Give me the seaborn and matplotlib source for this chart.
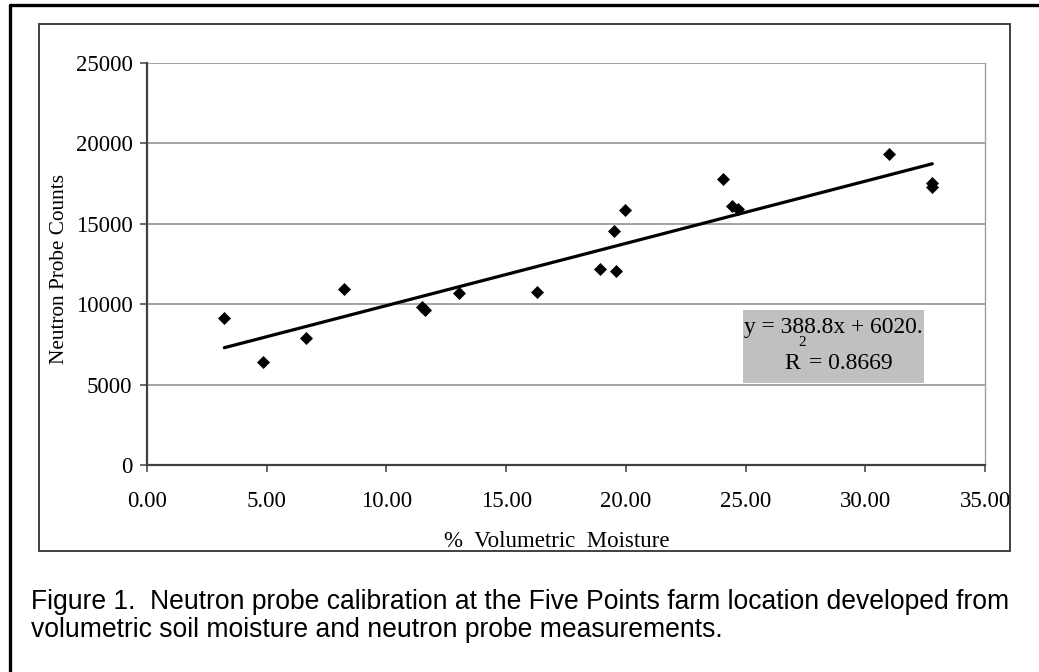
"""
Neutron probe calibration plot: neutron probe counts versus volumetric
soil moisture, with a fitted linear trendline (Five Points farm).
"""
import numpy as np
import pandas as pd
import seaborn as sns
import matplotlib.pyplot as plt
from matplotlib.patches import Rectangle
from matplotlib.lines import Line2D
from matplotlib.ticker import FormatStrFormatter, MultipleLocator

# Data
moisture = [3.23, 4.86, 6.63, 8.24, 11.50, 11.62, 13.05, 16.28, 18.94,
            19.60, 19.52, 19.97, 24.07, 24.45, 24.67, 30.97, 32.80, 32.80]
counts = [9120, 6390, 7900, 10950, 9800, 9660, 10680, 10740, 12190,
          12070, 14530, 15840, 17770, 16130, 15920, 19320, 17560, 17270]

EQUATION = "y = 388.8x + 6020.1"
R_SQUARED = "0.8669"
CAPTION = ["Figure 1.  Neutron probe calibration at the Five Points farm location developed from",
           "volumetric soil moisture and neutron probe measurements."]

X_LABEL = "%  Volumetric  Moisture"
Y_LABEL = "Neutron Probe Counts"

SERIF = "Liberation Serif"
SANS = "Liberation Sans"


def main():
    sns.set_style("white")
    plt.rcParams["font.family"] = [SERIF, "DejaVu Serif"]
    for key in ("text.color", "axes.labelcolor", "xtick.labelcolor", "ytick.labelcolor"):
        plt.rcParams[key] = "black"

    df = pd.DataFrame({"moisture": moisture, "counts": counts})

    W, H = 1039, 672
    fig = plt.figure(figsize=(W / 100, H / 100), dpi=100)
    ax = fig.add_axes([147 / W, 1 - 465 / H, (985 - 147) / W, (465 - 63) / H])

    sns.regplot(data=df, x="moisture", y="counts", ax=ax, ci=None, truncate=True,
                marker="D", color="black",
                scatter_kws={"s": 44, "linewidths": 0, "alpha": 1, "zorder": 4},
                line_kws={"lw": 2.3, "zorder": 3})

    ax.set_xlim(0, 35)
    ax.set_ylim(0, 25000)
    ax.xaxis.set_major_locator(MultipleLocator(5))
    ax.xaxis.set_major_formatter(FormatStrFormatter("%.2f"))
    ax.yaxis.set_major_locator(MultipleLocator(5000))

    ax.yaxis.grid(True, color="#8a8a8a", lw=1.1)
    ax.set_axisbelow(True)
    ax.spines["top"].set_visible(False)
    ax.spines["right"].set_color("#a0a0a0")
    ax.spines["right"].set_linewidth(1.0)
    for s in ("left", "bottom"):
        ax.spines[s].set_color("#404040")
        ax.spines[s].set_linewidth(1.6)

    ax.tick_params(axis="y", direction="out", length=5, width=1.1, color="#404040",
                   pad=5.5, labelsize=16.5, left=True)
    ax.tick_params(axis="x", direction="out", length=5, width=1.1, color="#404040",
                   pad=14, labelsize=16.5, bottom=True)

    ax.set_xlabel(X_LABEL, fontsize=16.5, va="top")
    ax.xaxis.set_label_coords((557 - 147) / 838, (465 - 531) / 402)
    ax.set_ylabel(Y_LABEL, fontsize=15.3, va="center")
    ax.yaxis.set_label_coords((60 - 147) / 838, (465 - 269) / 402)

    # trendline label box
    box = Rectangle((743 / W, 1 - 383 / H), (924 - 743) / W, (383 - 310) / H,
                    transform=fig.transFigure, facecolor="#c0c0c0",
                    edgecolor="none", zorder=5)
    fig.patches.append(box)
    t1 = fig.text(744 / W, 1 - 333 / H, EQUATION, fontsize=16.9, ha="left",
                  va="baseline", zorder=6)
    t1.set_clip_path(box)
    fig.text(784 / W, 1 - 369 / H, "R", fontsize=17, ha="left", va="baseline", zorder=6)
    fig.text(798 / W, 1 - 346 / H, "2", fontsize=11, ha="left", va="baseline", zorder=6)
    fig.text(809 / W, 1 - 369 / H, "= " + R_SQUARED, fontsize=17, ha="left",
             va="baseline", zorder=6)

    # chart area border and page border
    fig.patches.append(Rectangle((39 / W, 1 - 551 / H), (1010 - 39) / W, (551 - 24) / H,
                                 transform=fig.transFigure, fill=False,
                                 edgecolor="#404040", lw=1.4))
    fig.lines.append(Line2D([10 / W, 10 / W], [1 - 4.5 / H, 0], transform=fig.transFigure,
                            color="black", lw=2.4))
    fig.lines.append(Line2D([10 / W, 1], [1 - 4.5 / H, 1 - 4.5 / H], transform=fig.transFigure,
                            color="black", lw=2.4))

    # caption
    for i, line in enumerate(CAPTION):
        fig.text(31 / W, 1 - (602 + 28 * i) / H, line, fontsize=19.1,
                 family=[SANS, "DejaVu Sans"], ha="left", va="center")

    fig.savefig("out.png", dpi=100)


if __name__ == "__main__":
    main()
